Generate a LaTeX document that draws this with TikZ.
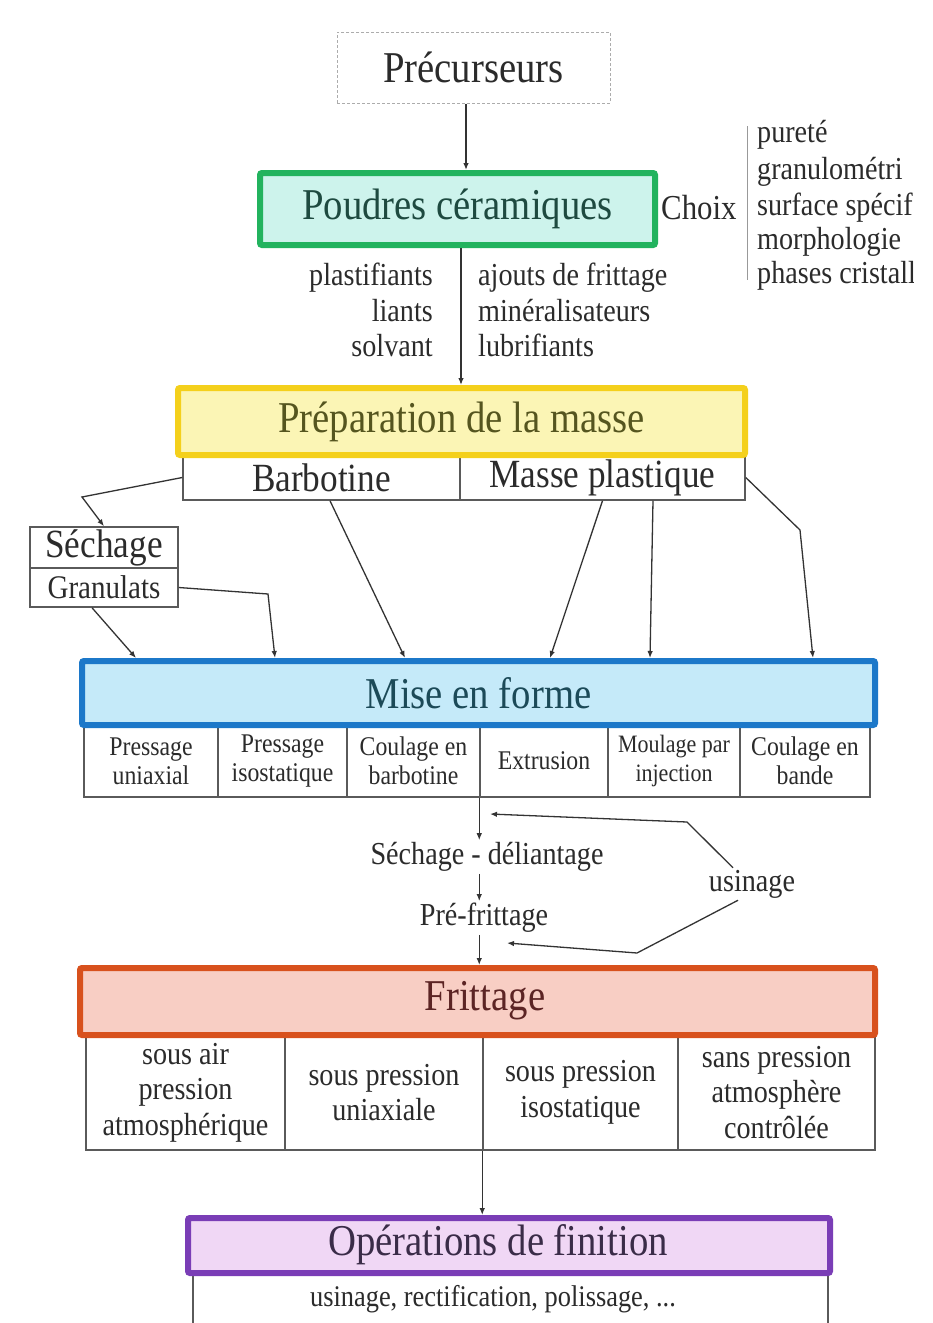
\documentclass[tikz,border=0pt]{standalone}
\usepackage{fontspec}
\setmainfont{Liberation Serif}[FakeStretch=0.88]
\usetikzlibrary{arrows.meta,calc}
\definecolor{txt}{HTML}{2B2B2B}
\definecolor{lncol}{HTML}{333333}
\definecolor{cellline}{HTML}{5A5A5A}
\definecolor{gbord}{HTML}{22B35E}\definecolor{gfill}{HTML}{CDF3EC}\definecolor{gtxt}{HTML}{1E4A40}
\definecolor{ybord}{HTML}{F4D01C}\definecolor{yfill}{HTML}{FBF5B5}\definecolor{ytxt}{HTML}{55551F}
\definecolor{bbord}{HTML}{1C78C9}\definecolor{bfill}{HTML}{C5EAF9}\definecolor{btxt}{HTML}{1C4A58}
\definecolor{rbord}{HTML}{D8511D}\definecolor{rfill}{HTML}{F8CEC4}\definecolor{rtxt}{HTML}{5C2424}
\definecolor{pbord}{HTML}{7A3DB6}\definecolor{pfill}{HTML}{F0D7F5}\definecolor{ptxt}{HTML}{3A2C48}
\tikzset{
  base/.style={font=\fontsize{32}{35.5}\selectfont, text=txt, inner sep=2pt},
  titlebox/.style={draw, line width=6pt, rounded corners=2pt, inner sep=0pt, font=\fontsize{44}{48}\selectfont},
  cell/.style={draw=cellline, line width=1.5pt, fill=white, inner sep=0pt, align=center, text=txt},
  arr/.style={draw=lncol, line width=1.3pt, -{Latex[length=7pt,width=5.5pt]}},
  ln/.style={draw=lncol, line width=1.3pt}
}
\begin{document}
\begin{tikzpicture}[x=1pt,y=-1pt]
\useasboundingbox[fill=white] (0,0) rectangle (932,1323);

% Precurseurs
\node[draw=gray!65, densely dashed, line width=1pt, minimum width=273pt, minimum height=71pt,
      font=\fontsize{44}{48}\selectfont, text=txt, inner sep=0pt] (pre) at (473.5,67.5) {Précurseurs};

% Poudres
\node[titlebox, draw=gbord, fill=gfill, text=gtxt, minimum width=395pt, minimum height=72pt] (pou) at (457.5,209) {Poudres céramiques};
\draw[arr] ([xshift=-7.5pt]pre.south) -- ([xshift=-7.5pt]pre.south |- pou.north);

% Choix
\node[base, font=\fontsize{35}{38}\selectfont, anchor=west, inner sep=0pt] (choix) at (661,208) {Choix};
\draw[gray!80, line width=1pt] (747,126) -- (747,280);
\begin{scope}
  \clip (748,100) rectangle (913,300);
  \node[base, anchor=west, inner sep=0pt] (c1) at (757,135) {pureté};
  \node[base, anchor=west, inner sep=0pt] (c2) at (757,172) {granulométri};
  \node[base, anchor=west, inner sep=0pt] (c3) at (757,208) {surface spécif};
  \node[base, anchor=west, inner sep=0pt] (c4) at (757,242) {morphologie};
  \node[base, anchor=west, inner sep=0pt] (c5) at (757,276) {phases cristall};
\end{scope}

% additives
\node[base, anchor=east, align=right] (addl) at (435,310) {plastifiants\\liants\\solvant};
\node[base, anchor=west, align=left] (addr) at (476,310) {ajouts de frittage\\minéralisateurs\\lubrifiants};

% Preparation
\node[cell, minimum width=277pt, minimum height=45pt, font=\fontsize{40}{44}\selectfont] (barb) at (321.5,477.5) {Barbotine};
\node[cell, minimum width=285pt, minimum height=45pt, font=\fontsize{40}{44}\selectfont] (masse) at (602.5,477.5) {Masse plastique};
\node[titlebox, draw=ybord, fill=yfill, text=ytxt, minimum width=567pt, minimum height=67pt] (prep) at (461.5,421.5) {Préparation de la masse};
\draw[arr] ([xshift=3.5pt]pou.south) -- ([xshift=3.5pt]pou.south |- prep.north);

% Sechage / Granulats
\node[cell, minimum width=148pt, minimum height=41pt, font=\fontsize{40}{44}\selectfont] (sech) at (104,547.5) {Séchage};
\node[cell, minimum width=148pt, minimum height=39pt, font=\fontsize{33}{36}\selectfont] (gran) at (104,587.5) {Granulats};

% Mise en forme
\begin{scope}[every node/.style={cell, minimum height=72pt, font=\fontsize{27}{29}\selectfont}]
  \node[minimum width=134pt] (m1) at (151,761) {Pressage\\uniaxial};
  \node[minimum width=129pt] (m2) at (282.5,761) {Pressage\\isostatique};
  \node[minimum width=133pt] (m3) at (413.5,761) {Coulage en\\barbotine};
  \node[minimum width=128pt] (m4) at (544,761) {Extrusion};
  \node[minimum width=132pt, font=\fontsize{25}{29}\selectfont] (m5) at (674,761) {Moulage par\\injection};
  \node[minimum width=130pt] (m6) at (805,761) {Coulage en\\bande};
\end{scope}
\node[titlebox, draw=bbord, fill=bfill, text=btxt, minimum width=793pt, minimum height=64pt] (mise) at (478.5,693) {Mise en forme};

% connectors to Mise en forme
\draw[arr] (barb.west) -- (82,497) -- (sech.north);
\draw[arr] (gran.east) -- (268,594) -- ([xshift=-203.5pt]mise.north);
\draw[arr] ([xshift=-12pt]gran.south) -- ([xshift=-342.5pt]mise.north);
\draw[arr] ([xshift=8.5pt]barb.south) -- ([xshift=-73.5pt]mise.north);
\draw[arr] (masse.south) -- ([xshift=71.5pt]mise.north);
\draw[arr] ([xshift=50.5pt]masse.south) -- ([xshift=171.5pt]mise.north);
\draw[arr] (masse.east) -- (800,530) -- ([xshift=334.5pt]mise.north);

% Sechage - deliantage, pre-frittage
\node[base] (sd) at (487,857) {Séchage - déliantage};
\node[base] (pf) at (484,918) {Pré-frittage};
\node[base] (us) at (752,884) {usinage};
\coordinate (u1) at (490,814);
\coordinate (u2) at (507,943);

% Frittage
\begin{scope}[every node/.style={cell, minimum height=115pt, font=\fontsize{32}{35.5}\selectfont}]
  \node[minimum width=199pt] (f1) at (185.5,1092.5) {sous air\\pression\\atmosphérique};
  \node[minimum width=198pt] (f2) at (384,1092.5) {sous pression\\uniaxiale};
  \node[minimum width=195pt] (f3) at (580.5,1092.5) {sous pression\\isostatique};
  \node[minimum width=197pt] (f4) at (776.5,1092.5) {sans pression\\atmosphère\\contrôlée};
\end{scope}
\node[titlebox, draw=rbord, fill=rfill, text=rtxt, minimum width=795pt, minimum height=67pt] (frit) at (477.5,1001.5) {};
\node[font=\fontsize{44}{48}\selectfont, text=rtxt] (fritt) at (485,1001) {Frittage};

\draw[arr] (m4.south west) -- (m4.south west |- sd.north);
\draw[arr] (sd.south -| m4.south west) -- (pf.north -| m4.south west);
\draw[arr] (pf.south -| m4.south west) -- (frit.north -| m4.south west);
\draw[arr] ([xshift=-19pt]us.north) -- (687,822) -- (u1);
\draw[arr] ([xshift=-14pt]us.south) -- (637,953) -- (u2);

% Operations de finition
\node[cell, minimum width=635pt, minimum height=58pt] (opsub) at (510.5,1302) {};
\node[base, font=\fontsize{30}{33}\selectfont] (opst) at (493,1299) {usinage, rectification, polissage, ...};
\node[titlebox, draw=pbord, fill=pfill, minimum width=642pt, minimum height=55pt] (ops) at (509,1245.5) {};
\node[font=\fontsize{44}{48}\selectfont, text=ptxt] (opt) at (498,1245) {Opérations de finition};
\draw[arr] (f3.south west) -- (f3.south west |- ops.north);
\end{tikzpicture}
\end{document}
